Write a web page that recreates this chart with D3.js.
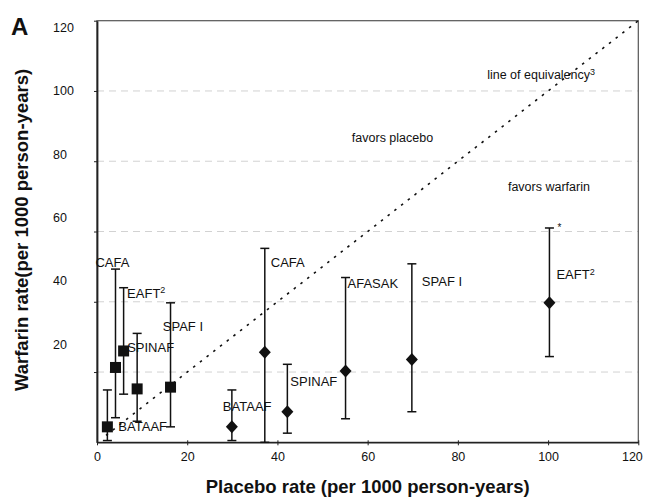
<!DOCTYPE html>
<html><head><meta charset="utf-8">
<script src="https://cdn.jsdelivr.net/npm/d3@7"></script>
<style>
html,body{margin:0;padding:0;background:#fff;}
svg text{font-family:"Liberation Sans",Arial,Helvetica,sans-serif;fill:#111;}
</style></head>
<body><svg id="chart" width="645" height="497"></svg>
<script>
// ---- data ----
const xTicks = [0, 20, 40, 60, 80, 100, 120];
const yTicks = [20, 40, 60, 80, 100, 120];
const gridValues = [20, 40, 60, 80, 100];

// square series
const squareStudies  = ["BATAAF", "CAFA", "EAFT", "SPINAF", "SPAF I"];
const squarePlacebo  = [2.3, 4.1, 5.9, 8.9, 16.3];
const squareWarfarin = [4.4, 21.3, 26.0, 15.2, 15.7];
const squareLow      = [0.5, 7.0, 13.7, 6.0, 4.4];
const squareHigh     = [14.9, 49.3, 44.0, 31.0, 39.7];

// diamond series
const diamondStudies  = ["BATAAF", "CAFA", "SPINAF", "AFASAK", "SPAF I", "EAFT"];
const diamondPlacebo  = [29.9, 37.2, 42.2, 55.1, 69.8, 100.3];
const diamondWarfarin = [4.4, 25.6, 8.7, 20.3, 23.6, 39.7];
const diamondLow      = [0.5, 0.0, 2.6, 6.7, 8.7, 24.4];
const diamondHigh     = [14.9, 55.2, 22.2, 46.9, 50.8, 61.0];

const superscripts = {"EAFT": "2"};

// region annotations (text, x value, y value)
const noteTexts = ["line of equivalency", "favors placebo", "favors warfarin"];
const noteSups  = ["3", "", ""];
const noteX     = [86.5, 56.5, 91.1];
const noteY     = [104.6, 86.6, 72.7];

// ---- layout ----
const W = 645, H = 497;
const m = {left: 97, top: 20.7, right: 6.7, bottom: 54.7};
const squareLabelOffsets = [[11, 0], [-20, -105], [3.5, -58], [-10, -41], [-7.7, -61]];
const diamondLabelOffsets = [[-9, -20], [6, -90], [3, -30], [2, -88], [10, -78], [7, -28]];

const svg = d3.select("#chart");
const x = d3.scaleLinear().domain([0, 120]).range([m.left, W - m.right]);
const y = d3.scaleLinear().domain([0, 120]).range([H - m.bottom, m.top]);
// printed tick labels on the vertical axis sit on a slightly compressed scale
const yLab = d3.scaleLinear().domain([20, 120]).range([344, 27.7]);

// grid lines
svg.append("g").selectAll("line").data(gridValues).join("line")
  .attr("x1", x(0)).attr("x2", x(120))
  .attr("y1", d => y(d)).attr("y2", d => y(d))
  .attr("stroke", "#d2d2d2").attr("stroke-width", 1)
  .attr("stroke-dasharray", "7,5");

// frame
svg.append("rect").attr("x", x(0)).attr("y", y(120))
  .attr("width", x(120) - x(0)).attr("height", y(0) - y(120))
  .attr("fill", "none").attr("stroke", "#555").attr("stroke-width", 1.2);

// x axis
const gx = svg.append("g").attr("transform", `translate(0,${y(0)})`)
  .call(d3.axisBottom(x).tickValues(xTicks).tickSizeInner(3).tickSizeOuter(0).tickPadding(7));
gx.select(".domain").attr("stroke", "#222").attr("stroke-width", 1.6);
gx.selectAll(".tick line").attr("stroke", "#222").attr("y1", -2);
gx.selectAll("text").style("font-size", "12.5px").attr("fill", "#111");
gx.selectAll(".tick").filter(d => d === 120).select("text")
  .attr("text-anchor", "end").attr("dx", "4");

// y axis ticks
const gy = svg.append("g").attr("transform", `translate(${x(0)},0)`)
  .call(d3.axisLeft(y).tickValues(yTicks).tickSizeInner(3).tickSizeOuter(0).tickFormat(""));
gy.select(".domain").attr("stroke", "#222").attr("stroke-width", 1.8);
gy.selectAll(".tick line").attr("stroke", "#222");

// y axis labels
const gyl = svg.append("g").attr("transform", `translate(53,0)`)
  .call(d3.axisLeft(yLab).tickValues(yTicks).tickSize(0).tickPadding(0));
gyl.select(".domain").remove();
gyl.selectAll("text").attr("text-anchor", "start").attr("x", 0)
  .style("font-size", "12.5px").attr("fill", "#111");

// line of equivalency
svg.append("line")
  .attr("x1", x(2)).attr("y1", y(2)).attr("x2", x(120)).attr("y2", y(120))
  .attr("stroke", "#111").attr("stroke-width", 1.6).attr("stroke-dasharray", "2.5,6");

function addLabel(g, txt, px, py) {
  const t = g.append("text").attr("x", px).attr("y", py).attr("dy", "0.35em")
    .style("font-size", "13px").text(txt);
  if (superscripts[txt]) {
    t.append("tspan").attr("dy", "-0.45em").style("font-size", "9px").text(superscripts[txt]);
  }
}

function drawSeries(studies, pl, wa, lo, hi, shape, offsets) {
  const g = svg.append("g");
  studies.forEach((s, i) => {
    const cx = x(pl[i]);
    g.append("line").attr("x1", cx).attr("x2", cx).attr("y1", y(lo[i])).attr("y2", y(hi[i]))
      .attr("stroke", "#111").attr("stroke-width", 1.5);
    [lo[i], hi[i]].forEach(v => {
      g.append("line").attr("x1", cx - 4.5).attr("x2", cx + 4.5).attr("y1", y(v)).attr("y2", y(v))
        .attr("stroke", "#111").attr("stroke-width", 1.5);
    });
    const cy = y(wa[i]);
    if (shape === "square") {
      g.append("rect").attr("x", cx - 5.5).attr("y", cy - 5.5).attr("width", 11).attr("height", 11)
        .attr("fill", "#111");
    } else {
      g.append("path").attr("d", `M${cx},${cy - 6.5}L${cx + 6},${cy}L${cx},${cy + 6.5}L${cx - 6},${cy}Z`)
        .attr("fill", "#111");
    }
    addLabel(g, s, cx + offsets[i][0], cy + offsets[i][1]);
  });
  return g;
}

drawSeries(squareStudies, squarePlacebo, squareWarfarin, squareLow, squareHigh, "square", squareLabelOffsets);
const dg = drawSeries(diamondStudies, diamondPlacebo, diamondWarfarin, diamondLow, diamondHigh, "diamond", diamondLabelOffsets);

// asterisk on the EAFT upper bound
const ei = diamondStudies.indexOf("EAFT");
dg.append("text").attr("x", x(diamondPlacebo[ei]) + 8).attr("y", y(diamondHigh[ei]) + 3)
  .style("font-size", "10px").text("*");

// region notes
noteTexts.forEach((t, i) => {
  const tx = svg.append("text").attr("x", x(noteX[i])).attr("y", y(noteY[i])).attr("dy", "0.35em")
    .style("font-size", "12.5px").text(t);
  if (noteSups[i]) tx.append("tspan").attr("dy", "-0.5em").style("font-size", "9px").text(noteSups[i]);
});

// axis titles
svg.append("text").attr("x", (x(0) + x(120)) / 2).attr("y", 493).attr("text-anchor", "middle")
  .style("font-size", "18.5px").style("font-weight", "bold")
  .text("Placebo rate (per 1000 person-years)");
svg.append("text").attr("transform", "translate(28,230) rotate(-90)").attr("text-anchor", "middle")
  .style("font-size", "18.5px").style("font-weight", "bold")
  .text("Warfarin rate(per 1000 person-years)");

// panel letter
svg.append("text").attr("x", 11).attr("y", 35)
  .style("font-size", "24px").style("font-weight", "bold").text("A");
</script></body></html>
